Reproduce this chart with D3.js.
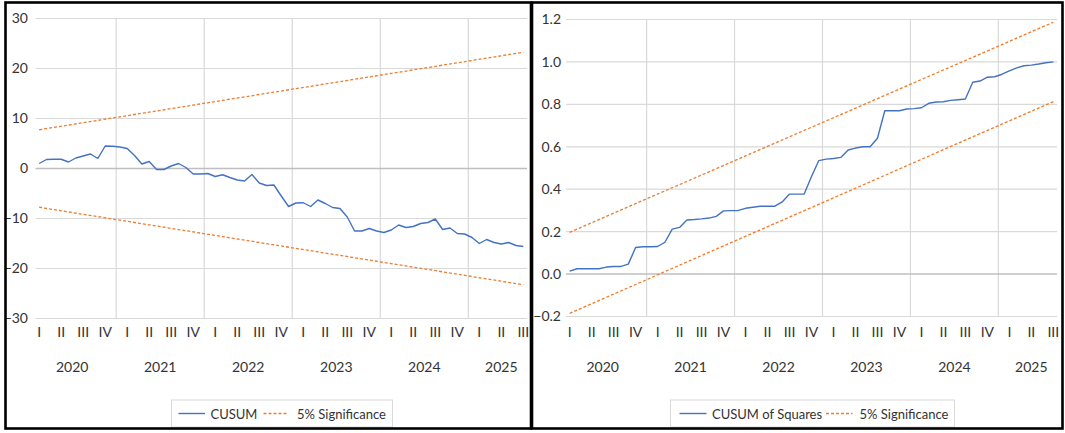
<!DOCTYPE html>
<html>
<head>
<meta charset="utf-8">
<script src="https://cdn.jsdelivr.net/npm/d3@7"></script>
<style>
  html, body { margin: 0; padding: 0; background: #fff; }
  svg { display: block; }
  text { font-family: Lato, "Open Sans", "DejaVu Sans Condensed", sans-serif; fill: #333; }
</style>
</head>
<body>
<svg id="chart" width="1065" height="433"></svg>
<script>
// Monthly observations run from Feb 2020 to Aug 2025
const firstMonth = new Date(2020, 1, 1);
const lastMonth = new Date(2025, 7, 1);
const months = d3.timeMonth.range(firstMonth, d3.timeMonth.offset(lastMonth, 1));

const years = ["2020", "2021", "2022", "2023", "2024", "2025"];
const quarterNames = ["I", "II", "III", "IV"];
// quarters shown per year on the category axis
const quartersShown = [4, 4, 4, 4, 4, 3];

// Recursive-residual CUSUM
const cusum = [
  1.0, 1.8, 1.85, 1.85, 1.3, 2.1, 2.5, 2.9, 2.0, 4.5, 4.45, 4.3,
  4.0, 2.6, 0.9, 1.4, -0.2, -0.2, 0.5, 1.0, 0.2, -1.1, -1.1, -1.0,
  -1.6, -1.25, -1.8, -2.3, -2.5, -1.2, -2.9, -3.4, -3.3, -5.5, -7.6, -6.9,
  -6.85, -7.6, -6.3, -7.0, -7.8, -8.0, -9.7, -12.5, -12.5, -12.0, -12.5, -12.8,
  -12.3, -11.3, -11.8, -11.6, -11.0, -10.8, -10.1, -12.2, -11.9, -13.0, -13.1, -13.8,
  -15.0, -14.2, -14.8, -15.1, -14.8, -15.4, -15.6
];
// CUSUM of squares
const cusumSq = [
  0.014, 0.025, 0.025, 0.025, 0.025, 0.033, 0.036, 0.036, 0.047, 0.125, 0.129, 0.129,
  0.130, 0.150, 0.212, 0.220, 0.255, 0.257, 0.260, 0.264, 0.272, 0.298, 0.299, 0.300,
  0.310, 0.315, 0.320, 0.320, 0.320, 0.340, 0.377, 0.377, 0.377, 0.460, 0.535, 0.542,
  0.545, 0.550, 0.585, 0.594, 0.600, 0.600, 0.640, 0.770, 0.770, 0.770, 0.778, 0.780,
  0.784, 0.805, 0.811, 0.812, 0.819, 0.822, 0.825, 0.904, 0.910, 0.928, 0.930, 0.942,
  0.958, 0.972, 0.982, 0.985, 0.990, 0.996, 1.000
];
// 5% significance bounds (straight lines between first and last observation)
const cusumUpper = [7.75, 23.25];
const cusumLower = [-7.75, -23.25];
const sqUpper = [0.197, 1.187];
const sqLower = [-0.185, 0.813];

const cusumTicks = [30, 20, 10, 0, -10, -20, -30];
const sqTicks = [1.2, 1.0, 0.8, 0.6, 0.4, 0.2, 0.0, -0.2];

const BLUE = "#4472C4";
const ORANGE = "#ED7D31";
const GRID = "#d9d9d9";
const AXIS_FONT = 14;
const LEGEND_FONT = 13;

const svg = d3.select("#chart");
svg.append("rect").attr("width", 1065).attr("height", 433).attr("fill", "#fff");

function drawPanel(p) {
  const g = svg.append("g");
  const n = months.length;
  // month-slot index scale: slot i spans [i, i+1]; Jan 2020 is slot -1
  const x = d3.scaleLinear().domain([0, n]).range([p.left, p.right]);
  const y = d3.scaleLinear().domain(p.yDomain).range([p.bottom, p.top]);
  const slot = d => d3.timeMonth.count(firstMonth, d);

  // horizontal gridlines
  g.append("g").selectAll("line").data(p.ticks.filter(t => t !== 0)).join("line")
    .attr("x1", p.left).attr("x2", p.right)
    .attr("y1", d => y(d)).attr("y2", d => y(d))
    .attr("stroke", GRID).attr("stroke-width", 1.2);

  // year boundary gridlines
  const boundaries = years.slice(1).map(yr => slot(new Date(+yr, 0, 1)));
  g.append("g").selectAll("line").data(boundaries).join("line")
    .attr("x1", d => x(d)).attr("x2", d => x(d))
    .attr("y1", p.top).attr("y2", p.bottom)
    .attr("stroke", GRID).attr("stroke-width", 1.2);

  // zero axis line
  g.append("line").attr("x1", p.left).attr("x2", p.right)
    .attr("y1", y(0)).attr("y2", y(0))
    .attr("stroke", "#bfbfbf").attr("stroke-width", 1.6);

  // y axis labels
  const yAxis = d3.axisLeft(y).tickValues(p.ticks).tickSize(0).tickPadding(0).tickFormat(p.fmt);
  const ya = g.append("g").attr("transform", `translate(${p.labelX},0)`).call(yAxis);
  ya.select(".domain").remove();
  ya.attr("font-family", null).attr("font-size", null);
  ya.selectAll("text").attr("font-size", AXIS_FONT).attr("fill", "#333");

  // quarter labels and year labels
  const qData = [];
  const yData = [];
  years.forEach((yr, yi) => {
    const s0 = slot(new Date(+yr, 0, 1));
    for (let q = 0; q < quartersShown[yi]; q++) {
      qData.push({ label: quarterNames[q], pos: s0 + q * 3 + 1.5 });
    }
    yData.push({ label: yr, pos: s0 + quartersShown[yi] * 1.5 });
  });
  g.append("g").selectAll("text").data(qData).join("text")
    .attr("x", d => x(d.pos)).attr("y", p.qY)
    .attr("text-anchor", "middle").attr("font-size", AXIS_FONT).text(d => d.label);
  g.append("g").selectAll("text").data(yData).join("text")
    .attr("x", d => x(d.pos)).attr("y", p.yearY)
    .attr("text-anchor", "middle").attr("font-size", AXIS_FONT).text(d => d.label);

  // significance bounds
  const ends = [0, n - 1];
  const boundLine = d3.line().x((d, i) => x(ends[i] + 0.5)).y(d => y(d));
  [p.upper, p.lower].forEach(b => {
    g.append("path").attr("d", boundLine(b))
      .attr("fill", "none").attr("stroke", ORANGE).attr("stroke-width", 1.3)
      .attr("stroke-dasharray", "3,2");
  });

  // statistic line
  const line = d3.line().x((d, i) => x(i + 0.5)).y(d => y(d));
  g.append("path").attr("d", line(p.values))
    .attr("fill", "none").attr("stroke", BLUE).attr("stroke-width", 1.4)
    .attr("stroke-linejoin", "round");

  // legend
  const L = p.legend;
  const lg = g.append("g");
  lg.append("rect").attr("x", L.x0).attr("y", L.y0).attr("width", L.x1 - L.x0).attr("height", L.y1 - L.y0)
    .attr("fill", "#fff").attr("stroke", GRID).attr("stroke-width", 1);
  lg.append("line").attr("x1", L.b0).attr("x2", L.b1).attr("y1", L.ly).attr("y2", L.ly)
    .attr("stroke", BLUE).attr("stroke-width", 1.4);
  lg.append("text").attr("x", L.t0).attr("y", L.ly + 5).attr("font-size", LEGEND_FONT).text(L.name);
  lg.append("line").attr("x1", L.o0).attr("x2", L.o1).attr("y1", L.ly).attr("y2", L.ly)
    .attr("stroke", ORANGE).attr("stroke-width", 1.3).attr("stroke-dasharray", "3,2");
  lg.append("text").attr("x", L.t1).attr("y", L.ly + 5).attr("font-size", LEGEND_FONT).text("5% Significance");
}

drawPanel({
  left: 35.5, right: 527, top: 18.5, bottom: 318.5,
  yDomain: [-30, 30], ticks: cusumTicks, fmt: d3.format("d"), labelX: 28,
  qY: 336.5, yearY: 372,
  values: cusum, upper: cusumUpper, lower: cusumLower,
  legend: { x0: 171.5, x1: 392.5, y0: 400, y1: 427, ly: 413.5,
            b0: 178.5, b1: 205, t0: 210.5, o0: 263.5, o1: 287.5, t1: 297, name: "CUSUM" }
});

drawPanel({
  left: 566, right: 1057, top: 19.5, bottom: 316.5,
  yDomain: [-0.2, 1.2], ticks: sqTicks, fmt: d3.format(".1f"), labelX: 561,
  qY: 336.5, yearY: 372,
  values: cusumSq, upper: sqUpper, lower: sqLower,
  legend: { x0: 670.5, x1: 954.5, y0: 400, y1: 427, ly: 413.5,
            b0: 679.5, b1: 706.5, t0: 712, o0: 826, o1: 852.5, t1: 859.5, name: "CUSUM of Squares" }
});

// panel frames
svg.append("rect").attr("x", 5.5).attr("y", 2.5).attr("width", 525.5).attr("height", 426)
  .attr("fill", "none").attr("stroke", "#000").attr("stroke-width", 2.6);
svg.append("rect").attr("x", 532).attr("y", 2.5).attr("width", 530.5).attr("height", 426)
  .attr("fill", "none").attr("stroke", "#000").attr("stroke-width", 2.6);
</script>
</body>
</html>
